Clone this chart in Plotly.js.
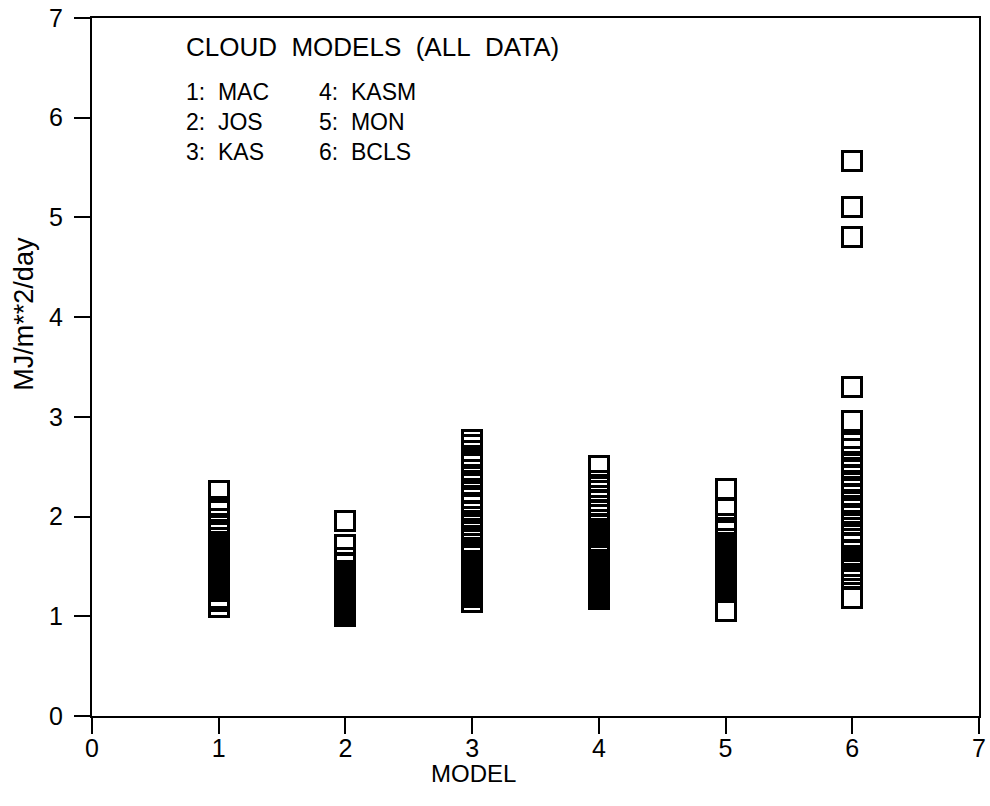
<!DOCTYPE html>
<html>
<head>
<meta charset="utf-8">
<script src="https://cdn.plot.ly/plotly-3.0.1.min.js"></script>
<style>
html,body{margin:0;padding:0;background:#fff;}
#chart path.point{shape-rendering:crispEdges;}
</style>
</head>
<body>
<div id="chart" style="width:990px;height:806px;"></div>
<script>
// Model numbers and names
var models = [1, 2, 3, 4, 5, 6];
var modelNames = ["MAC", "JOS", "KAS", "KASM", "MON", "BCLS"];

// Daily values (MJ/m**2/day), one list per model
var valsMAC  = [2.26, 2.10, 2.06, 1.98, 1.93, 1.84, 1.75, 1.70, 1.67, 1.64, 1.62, 1.60, 1.57, 1.55, 1.52, 1.50, 1.48, 1.46, 1.43, 1.41, 1.39, 1.36, 1.34, 1.31, 1.29, 1.25, 1.18, 1.15, 1.09];
var valsJOS  = [1.96, 1.71, 1.58, 1.53, 1.45, 1.43, 1.40, 1.38, 1.35, 1.33, 1.30, 1.28, 1.26, 1.23, 1.21, 1.19, 1.16, 1.14, 1.12, 1.10, 1.08, 1.06, 1.04, 1.02, 1.00];
var valsKAS  = [2.77, 2.72, 2.66, 2.61, 2.55, 2.47, 2.40, 2.33, 2.25, 2.19, 2.12, 2.05, 2.00, 1.96, 1.92, 1.88, 1.85, 1.80, 1.72, 1.68, 1.65, 1.62, 1.55, 1.50, 1.46, 1.40, 1.37, 1.34, 1.31, 1.29, 1.26, 1.24, 1.22, 1.19, 1.14];
var valsKASM = [2.51, 2.36, 2.30, 2.26, 2.21, 2.16, 2.11, 2.06, 2.02, 1.97, 1.93, 1.88, 1.84, 1.80, 1.76, 1.71, 1.67, 1.63, 1.60, 1.56, 1.53, 1.49, 1.46, 1.43, 1.40, 1.37, 1.34, 1.31, 1.28, 1.25, 1.22, 1.20, 1.17];
var valsMON  = [2.28, 2.08, 1.93, 1.86, 1.78, 1.72, 1.69, 1.66, 1.63, 1.60, 1.58, 1.55, 1.53, 1.50, 1.48, 1.45, 1.43, 1.40, 1.38, 1.35, 1.33, 1.31, 1.28, 1.25, 1.05];
var valsBCLS = [5.57, 5.10, 4.80, 3.30, 2.96, 2.74, 2.68, 2.60, 2.53, 2.47, 2.42, 2.36, 2.30, 2.22, 2.15, 2.08, 2.01, 1.93, 1.85, 1.78, 1.72, 1.66, 1.60, 1.55, 1.50, 1.46, 1.42, 1.38, 1.18];

var allVals = [valsMAC, valsJOS, valsKAS, valsKASM, valsMON, valsBCLS];

// Text
var chartTitle = "CLOUD\u00A0\u00A0MODELS\u00A0\u00A0(ALL\u00A0\u00A0DATA)";
var xTitle = "MODEL";
var yTitle = "MJ/m**2/day";
var xTicks = [0, 1, 2, 3, 4, 5, 6, 7];
var yTicks = [0, 1, 2, 3, 4, 5, 6, 7];

var FONT = "Liberation Sans, Arial, sans-serif";

var traces = models.map(function (m, i) {
  return {
    type: "scatter",
    mode: "markers",
    name: modelNames[i],
    x: allVals[i].map(function () { return m; }),
    y: allVals[i],
    marker: {symbol: "square-open", size: 19, color: "#000", line: {width: 3, color: "#000"}},
    showlegend: false,
    hoverinfo: "x+y"
  };
});

var annFont = {family: FONT, size: 26, color: "#000"};
var legFont = {family: FONT, size: 23, color: "#000"};
var leftCol = [], rightCol = [];
for (var i = 0; i < 3; i++) {
  leftCol.push(models[i] + ":\u00A0\u00A0" + modelNames[i]);
  rightCol.push(models[i + 3] + ":\u00A0\u00A0" + modelNames[i + 3]);
}
var annotations = [
  {text: chartTitle, xref: "paper", yref: "paper", x: 0.104, y: 0.958, xanchor: "left", yanchor: "middle", showarrow: false, font: annFont},
  {text: leftCol.join("<br>"), xref: "paper", yref: "paper", x: 0.104, y: 0.851, xanchor: "left", yanchor: "middle", align: "left", showarrow: false, font: legFont},
  {text: rightCol.join("<br>"), xref: "paper", yref: "paper", x: 0.254, y: 0.851, xanchor: "left", yanchor: "middle", align: "left", showarrow: false, font: legFont},
  {text: xTitle, xref: "paper", yref: "paper", x: 0.43, y: -0.082, xanchor: "center", yanchor: "middle", showarrow: false, font: {family: FONT, size: 24, color: "#000"}},
  {text: yTitle, xref: "paper", yref: "paper", x: -0.077, y: 0.576, xanchor: "center", yanchor: "middle", textangle: -90, showarrow: false, font: {family: FONT, size: 27, color: "#000"}}
];

var axisCommon = {
  showgrid: false, zeroline: false, showline: true, linewidth: 2, linecolor: "#000",
  mirror: true, ticks: "outside", ticklen: 16, tickwidth: 2, tickcolor: "#000",
  tickfont: {family: FONT, size: 25, color: "#000"}
};

var layout = {
  width: 990, height: 806,
  margin: {l: 92, r: 11, t: 18, b: 90},
  paper_bgcolor: "#fff", plot_bgcolor: "#fff",
  font: {family: FONT, color: "#000"},
  xaxis: Object.assign({}, axisCommon, {range: [0, 7], tickvals: xTicks, ticktext: xTicks.map(String), ticklabelstandoff: -7}),
  yaxis: Object.assign({}, axisCommon, {range: [0, 7], tickvals: yTicks, ticktext: yTicks.map(String), ticklabelstandoff: 6}),
  annotations: annotations
};

Plotly.newPlot("chart", traces, layout, {displayModeBar: false, staticPlot: true});
</script>
</body>
</html>
